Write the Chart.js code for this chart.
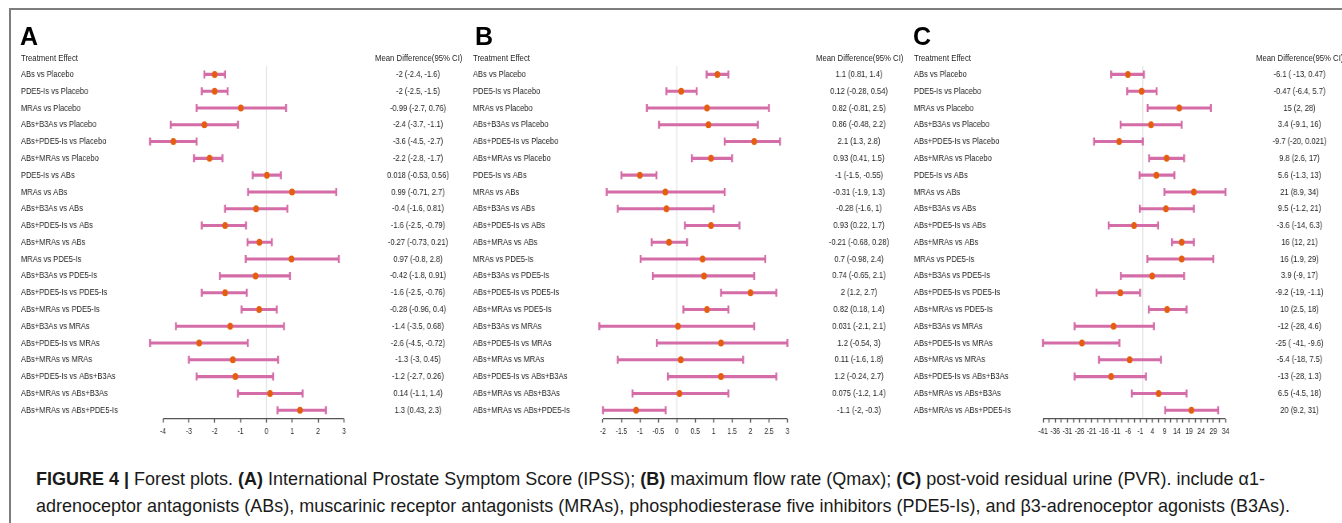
<!DOCTYPE html>
<html><head><meta charset="utf-8">
<script src="https://cdn.jsdelivr.net/npm/chart.js@4.4.1/dist/chart.umd.min.js"></script>
<style>
html,body{margin:0;padding:0;background:#fff;width:1342px;height:523px;overflow:hidden;position:relative;}
#frame{position:absolute;left:9px;top:8px;width:1400px;height:600px;border-top:2px solid #7d7d7d;border-left:2px solid #7d7d7d;}
canvas{position:absolute;top:0;transform-origin:0 0;}
.t{position:absolute;white-space:nowrap;color:#1e1e1e;transform-origin:0 0;}
</style></head><body>
<div id="frame"></div>
<script>
// ---------------- DATA ----------------
const categories = ["ABs vs Placebo","PDE5-Is vs Placebo","MRAs vs Placebo","ABs+B3As vs Placebo","ABs+PDE5-Is vs Placebo","ABs+MRAs vs Placebo","PDE5-Is vs ABs","MRAs vs ABs","ABs+B3As vs ABs","ABs+PDE5-Is vs ABs","ABs+MRAs vs ABs","MRAs vs PDE5-Is","ABs+B3As vs PDE5-Is","ABs+PDE5-Is vs PDE5-Is","ABs+MRAs vs PDE5-Is","ABs+B3As vs MRAs","ABs+PDE5-Is vs MRAs","ABs+MRAs vs MRAs","ABs+PDE5-Is vs ABs+B3As","ABs+MRAs vs ABs+B3As","ABs+MRAs vs ABs+PDE5-Is"];

// Panel A - IPSS
const meanA = [-2,-2,-0.99,-2.4,-3.6,-2.2,0.018,0.99,-0.4,-1.6,-0.27,0.97,-0.42,-1.6,-0.28,-1.4,-2.6,-1.3,-1.2,0.14,1.3];
const lowA  = [-2.4,-2.5,-2.7,-3.7,-4.5,-2.8,-0.53,-0.71,-1.6,-2.5,-0.73,-0.8,-1.8,-2.5,-0.96,-3.5,-4.5,-3,-2.7,-1.1,0.43];
const highA = [-1.6,-1.5,0.76,-1.1,-2.7,-1.7,0.56,2.7,0.81,-0.79,0.21,2.8,0.91,-0.76,0.4,0.68,-0.72,0.45,0.26,1.4,2.3];
const textA = ["-2 (-2.4, -1.6)","-2 (-2.5, -1.5)","-0.99 (-2.7, 0.76)","-2.4 (-3.7, -1.1)","-3.6 (-4.5, -2.7)","-2.2 (-2.8, -1.7)","0.018 (-0.53, 0.56)","0.99 (-0.71, 2.7)","-0.4 (-1.6, 0.81)","-1.6 (-2.5, -0.79)","-0.27 (-0.73, 0.21)","0.97 (-0.8, 2.8)","-0.42 (-1.8, 0.91)","-1.6 (-2.5, -0.76)","-0.28 (-0.96, 0.4)","-1.4 (-3.5, 0.68)","-2.6 (-4.5, -0.72)","-1.3 (-3, 0.45)","-1.2 (-2.7, 0.26)","0.14 (-1.1, 1.4)","1.3 (0.43, 2.3)"];
const ticksA = [-4,-3,-2,-1,0,1,2,3];
const tickLabelsA = ["-4","-3","-2","-1","0","1","2","3"];

// Panel B - Qmax
const meanB = [1.1,0.12,0.82,0.86,2.1,0.93,-1,-0.31,-0.28,0.93,-0.21,0.7,0.74,2,0.82,0.031,1.2,0.11,1.2,0.075,-1.1];
const lowB  = [0.81,-0.28,-0.81,-0.48,1.3,0.41,-1.5,-1.9,-1.6,0.22,-0.68,-0.98,-0.65,1.2,0.18,-2.1,-0.54,-1.6,-0.24,-1.2,-2];
const highB = [1.4,0.54,2.5,2.2,2.8,1.5,-0.55,1.3,1,1.7,0.28,2.4,2.1,2.7,1.4,2.1,3,1.8,2.7,1.4,-0.3];
const textB = ["1.1 (0.81, 1.4)","0.12 (-0.28, 0.54)","0.82 (-0.81, 2.5)","0.86 (-0.48, 2.2)","2.1 (1.3, 2.8)","0.93 (0.41, 1.5)","-1 (-1.5, -0.55)","-0.31 (-1.9, 1.3)","-0.28 (-1.6, 1)","0.93 (0.22, 1.7)","-0.21 (-0.68, 0.28)","0.7 (-0.98, 2.4)","0.74 (-0.65, 2.1)","2 (1.2, 2.7)","0.82 (0.18, 1.4)","0.031 (-2.1, 2.1)","1.2 (-0.54, 3)","0.11 (-1.6, 1.8)","1.2 (-0.24, 2.7)","0.075 (-1.2, 1.4)","-1.1 (-2, -0.3)"];
const ticksB = [-2,-1.5,-1,-0.5,0,0.5,1,1.5,2,2.5,3];
const tickLabelsB = ["-2","-1.5","-1","-0.5","0","0.5","1","1.5","2","2.5","3"];

// Panel C - PVR
const meanC = [-6.1,-0.47,15,3.4,-9.7,9.8,5.6,21,9.5,-3.6,16,16,3.9,-9.2,10,-12,-25,-5.4,-13,6.5,20];
const lowC  = [-13,-6.4,2,-9.1,-20,2.6,-1.3,8.9,-1.2,-14,12,1.9,-9,-19,2.5,-28,-41,-18,-28,-4.5,9.2];
const highC = [0.47,5.7,28,16,0.021,17,13,34,21,6.3,21,29,17,-1.1,18,4.6,-9.6,7.5,1.3,18,31];
const textC = ["-6.1 ( -13, 0.47)","-0.47 (-6.4, 5.7)","15 (2, 28)","3.4 (-9.1, 16)","-9.7 (-20, 0.021)","9.8 (2.6, 17)","5.6 (-1.3, 13)","21 (8.9, 34)","9.5 (-1.2, 21)","-3.6 (-14, 6.3)","16 (12, 21)","16 (1.9, 29)","3.9 (-9, 17)","-9.2 (-19, -1.1)","10 (2.5, 18)","-12 (-28, 4.6)","-25 ( -41, -9.6)","-5.4 (-18, 7.5)","-13 (-28, 1.3)","6.5 (-4.5, 18)","20 (9.2, 31)"];
const ticksC = [-41,-38.5,-36,-33.5,-31,-28.5,-26,-23.5,-21,-18.5,-16,-13.5,-11,-8.5,-6,-3.5,-1,1.5,4,6.5,9,11.5,14,16.5,19,21.5,24,26.5,29,31.5,34];
const tickLabelsC = ["-41","","-36","","-31","","-26","","-21","","-16","","-11","","-6","","-1","","4","","9","","14","","19","","24","","29","","34"];

// ---------------- FONTS ----------------
const FAM = '"Liberation Sans", Arial, sans-serif';
const S = 0.8; // horizontal condensing of the figure text & plots
const mctx = document.createElement('canvas').getContext('2d');
function measure(t, size, weight){ mctx.font=(weight?weight+' ':'')+size+'px '+FAM; return mctx.measureText(t).width; }
function fitSize(t, target){ return 10*target/(measure(t,10)*S); }
const rowFS  = fitSize("ABs+MRAs vs ABs+PDE5-Is", 97);
const valFS  = fitSize("0.018 (-0.53, 0.56)", 62);
const headFS = fitSize("Treatment Effect", 57);
const tickFS = rowFS*0.88;
const capFS  = 18.5;
const capLine2 = "adrenoceptor antagonists (ABs), muscarinic receptor antagonists (MRAs), phosphodiesterase five inhibitors (PDE5-Is), and β3-adrenoceptor agonists (B3As).";
const capS = 1254/measure(capLine2, capFS);

function addText(html, x, baseline, size, weight, color, sx){
  const d=document.createElement('div'); d.className='t'; d.innerHTML=html;
  d.style.font=(weight||'normal')+' '+size+'px '+FAM;
  d.style.lineHeight=size+'px';
  d.style.left=x+'px'; d.style.top=(baseline-0.8465*size)+'px';
  if(color) d.style.color=color;
  if(sx) d.style.transform='scaleX('+sx+')';
  document.body.appendChild(d); return d;
}

// ---------------- LAYOUT ----------------
const panels = [
  {letter:'A', mean:meanA, low:lowA, high:highA, text:textA, ticks:ticksA, tickLabels:tickLabelsA,
   canvasLeft:10, canvasWidth:448, labelX:21, v0:-4, p0:163, v1:3, p1:344, min:-4.9, max:3.3, valCenter:418, headX:375, letterX:20},
  {letter:'B', mean:meanB, low:lowB, high:highB, text:textB, ticks:ticksB, tickLabels:tickLabelsB,
   canvasLeft:455, canvasWidth:440, labelX:473, v0:-2, p0:603, v1:3, p1:787.4, min:-2.5, max:3.3, valCenter:859, headX:816, letterX:475},
  {letter:'C', mean:meanC, low:lowC, high:highC, text:textC, ticks:ticksC, tickLabels:tickLabelsC,
   canvasLeft:895, canvasWidth:447, labelX:914, v0:-41, p0:1043, v1:34, p1:1225.5, min:-47, max:38, valCenter:1299.5, headX:1256, letterX:913}
];
const H=452, TOP=66, BOTTOM=418.6, XAXIS_H=32;
const PINK='#d46ca8', ORANGE='#e35f0e';

const forestLines = {
  id:'forestLines',
  beforeDatasetsDraw(chart, args, opts){
    const {ctx, chartArea:{top,bottom}, scales:{x}} = chart;
    ctx.save();
    const x0 = x.getPixelForValue(0);
    ctx.strokeStyle='#e2e2e2'; ctx.lineWidth=1.25;
    ctx.beginPath(); ctx.moveTo(x0, top); ctx.lineTo(x0, bottom); ctx.stroke();
    ctx.strokeStyle='#555'; ctx.lineWidth=1.2;
    ctx.beginPath(); ctx.moveTo(x.getPixelForValue(opts.from), bottom); ctx.lineTo(x.getPixelForValue(opts.to), bottom); ctx.stroke();
    ctx.restore();
  }
};

Chart.defaults.font.family = FAM;
Chart.defaults.color = '#1e1e1e';

panels.forEach(p => {
  const ppu=(p.p1-p.p0)/(p.v1-p.v0);
  const plotL=p.p0-(p.v0-p.min)*ppu;
  const plotR=p.p1+(p.max-p.v1)*ppu;
  const toC = px => (px-p.canvasLeft)/S;
  const cvW = Math.round(p.canvasWidth/S);
  const cv=document.createElement('canvas');
  cv.width=cvW; cv.height=H;
  cv.style.left=p.canvasLeft+'px';
  cv.style.transform='scaleX('+S+')';
  document.body.appendChild(cv);
  const padLeft=toC(p.labelX);
  const yW=toC(plotL)-padLeft;
  const y2W=cvW-toC(plotR);
  const widest=Math.max(...p.text.map(t=>measure(t,valFS)));
  const y2Pad=toC(p.valCenter)-toC(plotR)-widest/2;

  new Chart(cv, {
    type:'bar',
    data:{
      labels:categories,
      datasets:[
        {type:'scatter', label:'mean', order:0, data:p.mean.map((v,i)=>({x:v,y:categories[i]})),
         pointStyle:'circle', pointRadius:3.5, pointBackgroundColor:ORANGE, pointBorderWidth:0, xAxisID:'x', yAxisID:'y'},
        {type:'scatter', label:'low', order:1, data:p.low.map((v,i)=>({x:v,y:categories[i]})),
         pointStyle:'line', pointRotation:90, pointRadius:4, pointBorderWidth:2.4, pointBorderColor:PINK, xAxisID:'x', yAxisID:'y'},
        {type:'scatter', label:'high', order:1, data:p.high.map((v,i)=>({x:v,y:categories[i]})),
         pointStyle:'line', pointRotation:90, pointRadius:4, pointBorderWidth:2.4, pointBorderColor:PINK, xAxisID:'x', yAxisID:'y'},
        {type:'bar', label:'ci', order:2, indexAxis:'y', data:p.low.map((v,i)=>[v,p.high[i]]),
         backgroundColor:PINK, borderWidth:0, barThickness:2.4, xAxisID:'x', yAxisID:'y'}
      ]
    },
    options:{
      responsive:false, animation:false, devicePixelRatio:1, events:[],
      layout:{padding:{left:padLeft, right:0, top:TOP, bottom:H-BOTTOM-XAXIS_H}},
      plugins:{legend:{display:false}, tooltip:{enabled:false}, forestLines:{from:p.ticks[0], to:p.ticks[p.ticks.length-1]}},
      scales:{
        x:{type:'linear', position:'bottom', min:p.min, max:p.max, offset:false,
           afterBuildTicks:s=>{ s.ticks=p.ticks.map(v=>({value:v})); },
           afterFit:s=>{ s.height=XAXIS_H; s.paddingLeft=0; s.paddingRight=0; },
           grid:{offset:false, drawOnChartArea:false, drawTicks:true, tickLength:4, tickColor:'#555', tickWidth:1.4, color:'#555'},
           border:{display:false},
           ticks:{autoSkip:false, maxRotation:0, minRotation:0, padding:4.5, font:{size:tickFS}, color:'#1e1e1e',
                  callback:(v,i)=>p.tickLabels[i]}},
        y:{type:'category', position:'left', offset:true,
           afterFit:s=>{ s.width=yW; s.paddingTop=0; s.paddingBottom=0; },
           grid:{display:false, drawTicks:false}, border:{display:false},
           ticks:{crossAlign:'far', autoSkip:false, padding:0, font:{size:rowFS}, color:'#1e1e1e'}},
        y2:{type:'category', position:'right', offset:true, labels:p.text,
           afterFit:s=>{ s.width=y2W; s.paddingTop=0; s.paddingBottom=0; },
           grid:{display:false, drawTicks:false}, border:{display:false},
           ticks:{crossAlign:'center', autoSkip:false, padding:y2Pad, font:{size:valFS}, color:'#1e1e1e'}}
      }
    },
    plugins:[forestLines]
  });

  addText(p.letter, p.letterX, 45, 25, 'bold', '#000');
  addText('Treatment Effect', p.labelX, 61.5, headFS, 'normal', null, S);
  addText('Mean Difference(95% CI)', p.headX, 61.5, headFS, 'normal', null, S);
});

// caption
const capBase1 = 485.5, capGap = 27.5;
addText('<b>FIGURE 4 |</b> Forest plots. <b>(A)</b> International Prostate Symptom Score (IPSS); <b>(B)</b> maximum flow rate (Qmax); <b>(C)</b> post-void residual urine (PVR). include α1-', 36, capBase1, capFS, 'normal', '#1a1a1a', capS);
addText(capLine2, 36, capBase1+capGap, capFS, 'normal', '#1a1a1a', capS);
</script>
</body></html>
